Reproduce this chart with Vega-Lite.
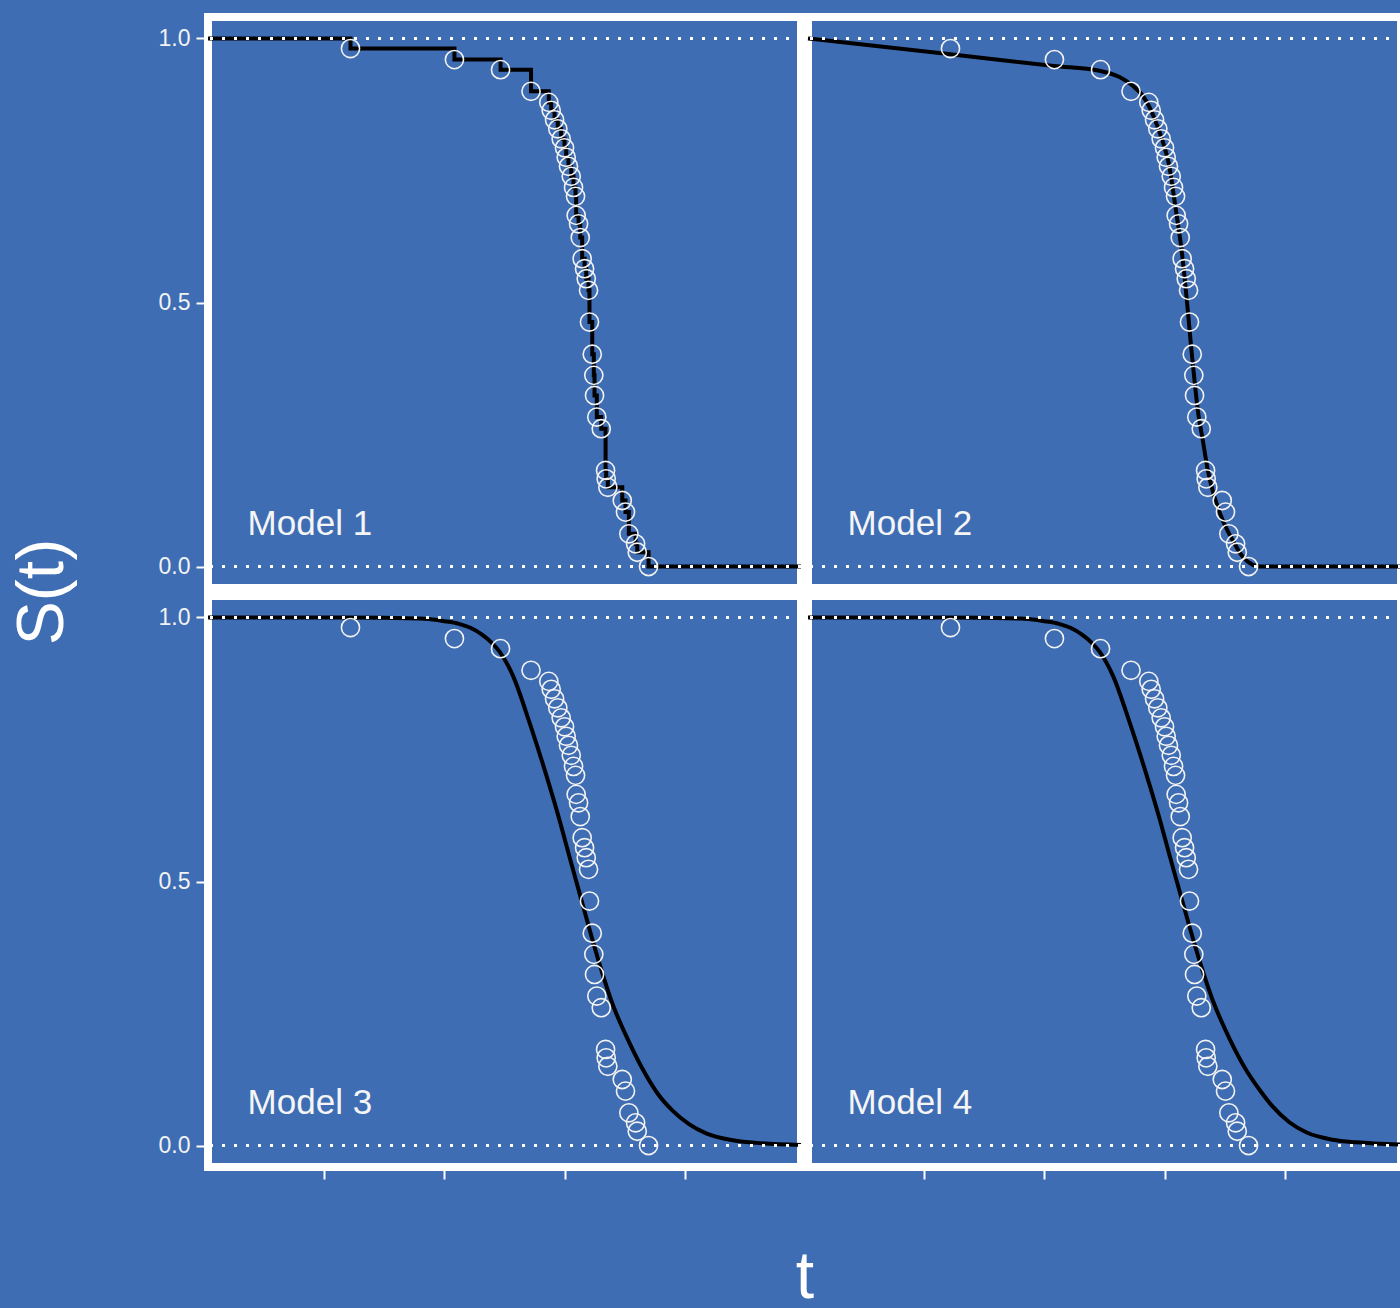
{
  "$schema": "https://vega.github.io/schema/vega-lite/v6.json",
  "background": "#3e6db4",
  "padding": {"left": 10, "top": 13, "right": 0, "bottom": 0},
  "data": {"values": [
    {"k":"lab","m":"Model 1","r":0,"c":0},
    {"k":"lab","m":"Model 2","r":0,"c":1},
    {"k":"lab","m":"Model 3","r":1,"c":0},
    {"k":"lab","m":"Model 4","r":1,"c":1},

    {"k":"obs","r":0,"c":0,"t":1.217,"s":0.981},{"k":"obs","r":0,"c":0,"t":2.083,"s":0.960},{"k":"obs","r":0,"c":0,"t":2.467,"s":0.941},{"k":"obs","r":0,"c":0,"t":2.721,"s":0.900},{"k":"obs","r":0,"c":0,"t":2.869,"s":0.879},{"k":"obs","r":0,"c":0,"t":2.889,"s":0.864},{"k":"obs","r":0,"c":0,"t":2.917,"s":0.846},{"k":"obs","r":0,"c":0,"t":2.944,"s":0.829},{"k":"obs","r":0,"c":0,"t":2.972,"s":0.810},{"k":"obs","r":0,"c":0,"t":3.000,"s":0.793},{"k":"obs","r":0,"c":0,"t":3.014,"s":0.775},{"k":"obs","r":0,"c":0,"t":3.033,"s":0.758},{"k":"obs","r":0,"c":0,"t":3.056,"s":0.739},{"k":"obs","r":0,"c":0,"t":3.075,"s":0.718},{"k":"obs","r":0,"c":0,"t":3.092,"s":0.701},{"k":"obs","r":0,"c":0,"t":3.097,"s":0.665},{"k":"obs","r":0,"c":0,"t":3.117,"s":0.649},{"k":"obs","r":0,"c":0,"t":3.131,"s":0.623},{"k":"obs","r":0,"c":0,"t":3.147,"s":0.583},{"k":"obs","r":0,"c":0,"t":3.167,"s":0.564},{"k":"obs","r":0,"c":0,"t":3.181,"s":0.545},{"k":"obs","r":0,"c":0,"t":3.200,"s":0.523},{"k":"obs","r":0,"c":0,"t":3.208,"s":0.463},{"k":"obs","r":0,"c":0,"t":3.231,"s":0.402},{"k":"obs","r":0,"c":0,"t":3.244,"s":0.362},{"k":"obs","r":0,"c":0,"t":3.250,"s":0.324},{"k":"obs","r":0,"c":0,"t":3.269,"s":0.283},{"k":"obs","r":0,"c":0,"t":3.306,"s":0.261},{"k":"obs","r":0,"c":0,"t":3.342,"s":0.182},{"k":"obs","r":0,"c":0,"t":3.347,"s":0.166},{"k":"obs","r":0,"c":0,"t":3.361,"s":0.150},{"k":"obs","r":0,"c":0,"t":3.481,"s":0.125},{"k":"obs","r":0,"c":0,"t":3.508,"s":0.103},{"k":"obs","r":0,"c":0,"t":3.536,"s":0.062},{"k":"obs","r":0,"c":0,"t":3.592,"s":0.043},{"k":"obs","r":0,"c":0,"t":3.606,"s":0.027},{"k":"obs","r":0,"c":0,"t":3.700,"s":0.000},

    {"k":"obs","r":0,"c":1,"t":1.217,"s":0.981},{"k":"obs","r":0,"c":1,"t":2.083,"s":0.960},{"k":"obs","r":0,"c":1,"t":2.467,"s":0.941},{"k":"obs","r":0,"c":1,"t":2.721,"s":0.900},{"k":"obs","r":0,"c":1,"t":2.869,"s":0.879},{"k":"obs","r":0,"c":1,"t":2.889,"s":0.864},{"k":"obs","r":0,"c":1,"t":2.917,"s":0.846},{"k":"obs","r":0,"c":1,"t":2.944,"s":0.829},{"k":"obs","r":0,"c":1,"t":2.972,"s":0.810},{"k":"obs","r":0,"c":1,"t":3.000,"s":0.793},{"k":"obs","r":0,"c":1,"t":3.014,"s":0.775},{"k":"obs","r":0,"c":1,"t":3.033,"s":0.758},{"k":"obs","r":0,"c":1,"t":3.056,"s":0.739},{"k":"obs","r":0,"c":1,"t":3.075,"s":0.718},{"k":"obs","r":0,"c":1,"t":3.092,"s":0.701},{"k":"obs","r":0,"c":1,"t":3.097,"s":0.665},{"k":"obs","r":0,"c":1,"t":3.117,"s":0.649},{"k":"obs","r":0,"c":1,"t":3.131,"s":0.623},{"k":"obs","r":0,"c":1,"t":3.147,"s":0.583},{"k":"obs","r":0,"c":1,"t":3.167,"s":0.564},{"k":"obs","r":0,"c":1,"t":3.181,"s":0.545},{"k":"obs","r":0,"c":1,"t":3.200,"s":0.523},{"k":"obs","r":0,"c":1,"t":3.208,"s":0.463},{"k":"obs","r":0,"c":1,"t":3.231,"s":0.402},{"k":"obs","r":0,"c":1,"t":3.244,"s":0.362},{"k":"obs","r":0,"c":1,"t":3.250,"s":0.324},{"k":"obs","r":0,"c":1,"t":3.269,"s":0.283},{"k":"obs","r":0,"c":1,"t":3.306,"s":0.261},{"k":"obs","r":0,"c":1,"t":3.342,"s":0.182},{"k":"obs","r":0,"c":1,"t":3.347,"s":0.166},{"k":"obs","r":0,"c":1,"t":3.361,"s":0.150},{"k":"obs","r":0,"c":1,"t":3.481,"s":0.125},{"k":"obs","r":0,"c":1,"t":3.508,"s":0.103},{"k":"obs","r":0,"c":1,"t":3.536,"s":0.062},{"k":"obs","r":0,"c":1,"t":3.592,"s":0.043},{"k":"obs","r":0,"c":1,"t":3.606,"s":0.027},{"k":"obs","r":0,"c":1,"t":3.700,"s":0.000},

    {"k":"obs","r":1,"c":0,"t":1.217,"s":0.981},{"k":"obs","r":1,"c":0,"t":2.083,"s":0.960},{"k":"obs","r":1,"c":0,"t":2.467,"s":0.941},{"k":"obs","r":1,"c":0,"t":2.721,"s":0.900},{"k":"obs","r":1,"c":0,"t":2.869,"s":0.879},{"k":"obs","r":1,"c":0,"t":2.889,"s":0.864},{"k":"obs","r":1,"c":0,"t":2.917,"s":0.846},{"k":"obs","r":1,"c":0,"t":2.944,"s":0.829},{"k":"obs","r":1,"c":0,"t":2.972,"s":0.810},{"k":"obs","r":1,"c":0,"t":3.000,"s":0.793},{"k":"obs","r":1,"c":0,"t":3.014,"s":0.775},{"k":"obs","r":1,"c":0,"t":3.033,"s":0.758},{"k":"obs","r":1,"c":0,"t":3.056,"s":0.739},{"k":"obs","r":1,"c":0,"t":3.075,"s":0.718},{"k":"obs","r":1,"c":0,"t":3.092,"s":0.701},{"k":"obs","r":1,"c":0,"t":3.097,"s":0.665},{"k":"obs","r":1,"c":0,"t":3.117,"s":0.649},{"k":"obs","r":1,"c":0,"t":3.131,"s":0.623},{"k":"obs","r":1,"c":0,"t":3.147,"s":0.583},{"k":"obs","r":1,"c":0,"t":3.167,"s":0.564},{"k":"obs","r":1,"c":0,"t":3.181,"s":0.545},{"k":"obs","r":1,"c":0,"t":3.200,"s":0.523},{"k":"obs","r":1,"c":0,"t":3.208,"s":0.463},{"k":"obs","r":1,"c":0,"t":3.231,"s":0.402},{"k":"obs","r":1,"c":0,"t":3.244,"s":0.362},{"k":"obs","r":1,"c":0,"t":3.250,"s":0.324},{"k":"obs","r":1,"c":0,"t":3.269,"s":0.283},{"k":"obs","r":1,"c":0,"t":3.306,"s":0.261},{"k":"obs","r":1,"c":0,"t":3.342,"s":0.182},{"k":"obs","r":1,"c":0,"t":3.347,"s":0.166},{"k":"obs","r":1,"c":0,"t":3.361,"s":0.150},{"k":"obs","r":1,"c":0,"t":3.481,"s":0.125},{"k":"obs","r":1,"c":0,"t":3.508,"s":0.103},{"k":"obs","r":1,"c":0,"t":3.536,"s":0.062},{"k":"obs","r":1,"c":0,"t":3.592,"s":0.043},{"k":"obs","r":1,"c":0,"t":3.606,"s":0.027},{"k":"obs","r":1,"c":0,"t":3.700,"s":0.000},

    {"k":"obs","r":1,"c":1,"t":1.217,"s":0.981},{"k":"obs","r":1,"c":1,"t":2.083,"s":0.960},{"k":"obs","r":1,"c":1,"t":2.467,"s":0.941},{"k":"obs","r":1,"c":1,"t":2.721,"s":0.900},{"k":"obs","r":1,"c":1,"t":2.869,"s":0.879},{"k":"obs","r":1,"c":1,"t":2.889,"s":0.864},{"k":"obs","r":1,"c":1,"t":2.917,"s":0.846},{"k":"obs","r":1,"c":1,"t":2.944,"s":0.829},{"k":"obs","r":1,"c":1,"t":2.972,"s":0.810},{"k":"obs","r":1,"c":1,"t":3.000,"s":0.793},{"k":"obs","r":1,"c":1,"t":3.014,"s":0.775},{"k":"obs","r":1,"c":1,"t":3.033,"s":0.758},{"k":"obs","r":1,"c":1,"t":3.056,"s":0.739},{"k":"obs","r":1,"c":1,"t":3.075,"s":0.718},{"k":"obs","r":1,"c":1,"t":3.092,"s":0.701},{"k":"obs","r":1,"c":1,"t":3.097,"s":0.665},{"k":"obs","r":1,"c":1,"t":3.117,"s":0.649},{"k":"obs","r":1,"c":1,"t":3.131,"s":0.623},{"k":"obs","r":1,"c":1,"t":3.147,"s":0.583},{"k":"obs","r":1,"c":1,"t":3.167,"s":0.564},{"k":"obs","r":1,"c":1,"t":3.181,"s":0.545},{"k":"obs","r":1,"c":1,"t":3.200,"s":0.523},{"k":"obs","r":1,"c":1,"t":3.208,"s":0.463},{"k":"obs","r":1,"c":1,"t":3.231,"s":0.402},{"k":"obs","r":1,"c":1,"t":3.244,"s":0.362},{"k":"obs","r":1,"c":1,"t":3.250,"s":0.324},{"k":"obs","r":1,"c":1,"t":3.269,"s":0.283},{"k":"obs","r":1,"c":1,"t":3.306,"s":0.261},{"k":"obs","r":1,"c":1,"t":3.342,"s":0.182},{"k":"obs","r":1,"c":1,"t":3.347,"s":0.166},{"k":"obs","r":1,"c":1,"t":3.361,"s":0.150},{"k":"obs","r":1,"c":1,"t":3.481,"s":0.125},{"k":"obs","r":1,"c":1,"t":3.508,"s":0.103},{"k":"obs","r":1,"c":1,"t":3.536,"s":0.062},{"k":"obs","r":1,"c":1,"t":3.592,"s":0.043},{"k":"obs","r":1,"c":1,"t":3.606,"s":0.027},{"k":"obs","r":1,"c":1,"t":3.700,"s":0.000},

    {"k":"km","r":0,"c":0,"t":0.03,"s":1.0},
    {"k":"km","r":0,"c":0,"t":1.217,"s":0.981},{"k":"km","r":0,"c":0,"t":2.083,"s":0.960},{"k":"km","r":0,"c":0,"t":2.467,"s":0.941},{"k":"km","r":0,"c":0,"t":2.721,"s":0.900},{"k":"km","r":0,"c":0,"t":2.869,"s":0.879},{"k":"km","r":0,"c":0,"t":2.889,"s":0.864},{"k":"km","r":0,"c":0,"t":2.917,"s":0.846},{"k":"km","r":0,"c":0,"t":2.944,"s":0.829},{"k":"km","r":0,"c":0,"t":2.972,"s":0.810},{"k":"km","r":0,"c":0,"t":3.000,"s":0.793},{"k":"km","r":0,"c":0,"t":3.014,"s":0.775},{"k":"km","r":0,"c":0,"t":3.033,"s":0.758},{"k":"km","r":0,"c":0,"t":3.056,"s":0.739},{"k":"km","r":0,"c":0,"t":3.075,"s":0.718},{"k":"km","r":0,"c":0,"t":3.092,"s":0.701},{"k":"km","r":0,"c":0,"t":3.097,"s":0.665},{"k":"km","r":0,"c":0,"t":3.117,"s":0.649},{"k":"km","r":0,"c":0,"t":3.131,"s":0.623},{"k":"km","r":0,"c":0,"t":3.147,"s":0.583},{"k":"km","r":0,"c":0,"t":3.167,"s":0.564},{"k":"km","r":0,"c":0,"t":3.181,"s":0.545},{"k":"km","r":0,"c":0,"t":3.200,"s":0.523},{"k":"km","r":0,"c":0,"t":3.208,"s":0.463},{"k":"km","r":0,"c":0,"t":3.231,"s":0.402},{"k":"km","r":0,"c":0,"t":3.244,"s":0.362},{"k":"km","r":0,"c":0,"t":3.250,"s":0.324},{"k":"km","r":0,"c":0,"t":3.269,"s":0.283},{"k":"km","r":0,"c":0,"t":3.306,"s":0.261},{"k":"km","r":0,"c":0,"t":3.342,"s":0.182},{"k":"km","r":0,"c":0,"t":3.347,"s":0.166},{"k":"km","r":0,"c":0,"t":3.361,"s":0.150},{"k":"km","r":0,"c":0,"t":3.481,"s":0.125},{"k":"km","r":0,"c":0,"t":3.508,"s":0.103},{"k":"km","r":0,"c":0,"t":3.536,"s":0.062},{"k":"km","r":0,"c":0,"t":3.592,"s":0.043},{"k":"km","r":0,"c":0,"t":3.606,"s":0.027},{"k":"km","r":0,"c":0,"t":3.700,"s":0.000},
    {"k":"km","r":0,"c":0,"t":4.97,"s":0.0},

    {"k":"fit","r":0,"c":1,"t":0.03,"s":1.0},{"k":"fit","r":0,"c":1,"t":1.217,"s":0.970},{"k":"fit","r":0,"c":1,"t":2.079,"s":0.948},{"k":"fit","r":0,"c":1,"t":2.458,"s":0.939},{"k":"fit","r":0,"c":1,"t":2.625,"s":0.927},{"k":"fit","r":0,"c":1,"t":2.733,"s":0.911},{"k":"fit","r":0,"c":1,"t":2.817,"s":0.892},{"k":"fit","r":0,"c":1,"t":2.875,"s":0.870},{"k":"fit","r":0,"c":1,"t":2.917,"s":0.848},{"k":"fit","r":0,"c":1,"t":2.958,"s":0.823},{"k":"fit","r":0,"c":1,"t":3.0,"s":0.794},{"k":"fit","r":0,"c":1,"t":3.042,"s":0.756},{"k":"fit","r":0,"c":1,"t":3.075,"s":0.706},{"k":"fit","r":0,"c":1,"t":3.108,"s":0.655},{"k":"fit","r":0,"c":1,"t":3.139,"s":0.605},{"k":"fit","r":0,"c":1,"t":3.167,"s":0.548},{"k":"fit","r":0,"c":1,"t":3.194,"s":0.485},{"k":"fit","r":0,"c":1,"t":3.222,"s":0.415},{"k":"fit","r":0,"c":1,"t":3.25,"s":0.352},{"k":"fit","r":0,"c":1,"t":3.278,"s":0.295},{"k":"fit","r":0,"c":1,"t":3.319,"s":0.239},{"k":"fit","r":0,"c":1,"t":3.361,"s":0.182},{"k":"fit","r":0,"c":1,"t":3.417,"s":0.131},{"k":"fit","r":0,"c":1,"t":3.486,"s":0.087},{"k":"fit","r":0,"c":1,"t":3.569,"s":0.049},{"k":"fit","r":0,"c":1,"t":3.653,"s":0.018},{"k":"fit","r":0,"c":1,"t":3.736,"s":0.003},{"k":"fit","r":0,"c":1,"t":3.79,"s":0.0},{"k":"fit","r":0,"c":1,"t":4.97,"s":0.0},

    {"k":"fit","r":1,"c":0,"t":0.03,"s":1.0},{"k":"fit","r":1,"c":0,"t":1.2,"s":1.0},{"k":"fit","r":1,"c":0,"t":1.79,"s":0.998},{"k":"fit","r":1,"c":0,"t":2.0,"s":0.993},{"k":"fit","r":1,"c":0,"t":2.12,"s":0.988},{"k":"fit","r":1,"c":0,"t":2.22,"s":0.980},{"k":"fit","r":1,"c":0,"t":2.31,"s":0.968},{"k":"fit","r":1,"c":0,"t":2.39,"s":0.953},{"k":"fit","r":1,"c":0,"t":2.46,"s":0.935},{"k":"fit","r":1,"c":0,"t":2.57,"s":0.890},{"k":"fit","r":1,"c":0,"t":2.71,"s":0.800},{"k":"fit","r":1,"c":0,"t":2.85,"s":0.700},{"k":"fit","r":1,"c":0,"t":2.96,"s":0.615},{"k":"fit","r":1,"c":0,"t":3.04,"s":0.548},{"k":"fit","r":1,"c":0,"t":3.125,"s":0.478},{"k":"fit","r":1,"c":0,"t":3.21,"s":0.408},{"k":"fit","r":1,"c":0,"t":3.29,"s":0.345},{"k":"fit","r":1,"c":0,"t":3.40,"s":0.268},{"k":"fit","r":1,"c":0,"t":3.54,"s":0.195},{"k":"fit","r":1,"c":0,"t":3.68,"s":0.133},{"k":"fit","r":1,"c":0,"t":3.78,"s":0.097},{"k":"fit","r":1,"c":0,"t":3.9,"s":0.066},{"k":"fit","r":1,"c":0,"t":4.04,"s":0.040},{"k":"fit","r":1,"c":0,"t":4.18,"s":0.023},{"k":"fit","r":1,"c":0,"t":4.4,"s":0.010},{"k":"fit","r":1,"c":0,"t":4.6,"s":0.005},{"k":"fit","r":1,"c":0,"t":4.97,"s":0.001},

    {"k":"fit","r":1,"c":1,"t":0.03,"s":1.0},{"k":"fit","r":1,"c":1,"t":1.2,"s":1.0},{"k":"fit","r":1,"c":1,"t":1.79,"s":0.998},{"k":"fit","r":1,"c":1,"t":2.0,"s":0.993},{"k":"fit","r":1,"c":1,"t":2.12,"s":0.988},{"k":"fit","r":1,"c":1,"t":2.22,"s":0.980},{"k":"fit","r":1,"c":1,"t":2.31,"s":0.968},{"k":"fit","r":1,"c":1,"t":2.39,"s":0.953},{"k":"fit","r":1,"c":1,"t":2.46,"s":0.935},{"k":"fit","r":1,"c":1,"t":2.57,"s":0.890},{"k":"fit","r":1,"c":1,"t":2.71,"s":0.801},{"k":"fit","r":1,"c":1,"t":2.85,"s":0.702},{"k":"fit","r":1,"c":1,"t":2.96,"s":0.618},{"k":"fit","r":1,"c":1,"t":3.04,"s":0.551},{"k":"fit","r":1,"c":1,"t":3.125,"s":0.482},{"k":"fit","r":1,"c":1,"t":3.21,"s":0.413},{"k":"fit","r":1,"c":1,"t":3.29,"s":0.351},{"k":"fit","r":1,"c":1,"t":3.40,"s":0.276},{"k":"fit","r":1,"c":1,"t":3.54,"s":0.203},{"k":"fit","r":1,"c":1,"t":3.68,"s":0.143},{"k":"fit","r":1,"c":1,"t":3.79,"s":0.106},{"k":"fit","r":1,"c":1,"t":3.9,"s":0.074},{"k":"fit","r":1,"c":1,"t":4.04,"s":0.044},{"k":"fit","r":1,"c":1,"t":4.18,"s":0.025},{"k":"fit","r":1,"c":1,"t":4.4,"s":0.011},{"k":"fit","r":1,"c":1,"t":4.6,"s":0.006},{"k":"fit","r":1,"c":1,"t":4.97,"s":0.002}
  ]},
  "bounds": "flush",
  "facet": {
    "row": {"field": "r", "type": "ordinal", "title": "S(t)",
            "header": {"labels": false, "titleFontSize": 66, "titleColor": "white", "titleFont": "Liberation Sans", "titleFontWeight": "normal", "titlePadding": 71}},
    "column": {"field": "c", "type": "ordinal", "title": "t",
               "header": {"labels": false, "titleOrient": "bottom", "titleFontSize": 66, "titleColor": "white", "titleFont": "Liberation Sans", "titleFontWeight": "normal", "titlePadding": 56}}
  },
  "spacing": {"row": 8, "column": 7},
  "spec": {
    "width": 593,
    "height": 571,
    "layer": [
      {
        "transform": [{"filter": "datum.k === 'km'"}],
        "mark": {"type": "line", "interpolate": "step-after", "color": "black", "strokeWidth": 4},
        "encoding": {
          "x": {"field": "t", "type": "quantitative", "scale": {"domain": [0.03, 4.97], "nice": false, "zero": false},
                "axis": {"values": [0, 1, 2, 3, 4], "labels": false, "title": null, "tickSize": 12}},
          "y": {"field": "s", "type": "quantitative", "scale": {"domain": [-0.0407, 1.0407], "nice": false, "zero": false},
                "axis": {"values": [0, 0.5, 1], "format": ".1f", "title": null, "tickSize": 12, "labelPadding": 6, "labelFontSize": 23}}
        }
      },
      {
        "transform": [{"filter": "datum.k === 'fit'"}],
        "mark": {"type": "line", "interpolate": "monotone", "color": "black", "strokeWidth": 4},
        "encoding": {
          "x": {"field": "t", "type": "quantitative"},
          "y": {"field": "s", "type": "quantitative"}
        }
      },
      {
        "transform": [{"filter": "datum.k === 'lab'"}],
        "mark": {"type": "rule", "color": "white", "strokeWidth": 3, "strokeDash": [3, 9]},
        "encoding": {"y": {"datum": 1, "type": "quantitative"}}
      },
      {
        "transform": [{"filter": "datum.k === 'lab'"}],
        "mark": {"type": "rule", "color": "white", "strokeWidth": 3, "strokeDash": [3, 9]},
        "encoding": {"y": {"datum": 0, "type": "quantitative"}}
      },
      {
        "transform": [{"filter": "datum.k === 'obs'"}],
        "mark": {"type": "point", "shape": "circle", "filled": false, "size": 330, "stroke": "#f2f2f2", "strokeWidth": 1.6, "opacity": 1},
        "encoding": {
          "x": {"field": "t", "type": "quantitative"},
          "y": {"field": "s", "type": "quantitative"}
        }
      },
      {
        "transform": [{"filter": "datum.k === 'lab'"}],
        "mark": {"type": "text", "align": "left", "baseline": "middle", "fontSize": 35, "color": "#f5f5f5", "font": "Liberation Sans"},
        "encoding": {
          "x": {"datum": 0.36, "type": "quantitative"},
          "y": {"datum": 0.08, "type": "quantitative"},
          "text": {"field": "m"}
        }
      }
    ]
  },
  "config": {
    "font": "Liberation Sans",
    "view": {"stroke": "white", "strokeWidth": 8, "fill": null},
    "axis": {"grid": false, "domain": false, "tickColor": "white", "tickWidth": 2, "labelColor": "#f2f2f2", "titleColor": "white", "labelFont": "Liberation Sans", "titleFont": "Liberation Sans", "titleFontWeight": "normal"}
  }
}
